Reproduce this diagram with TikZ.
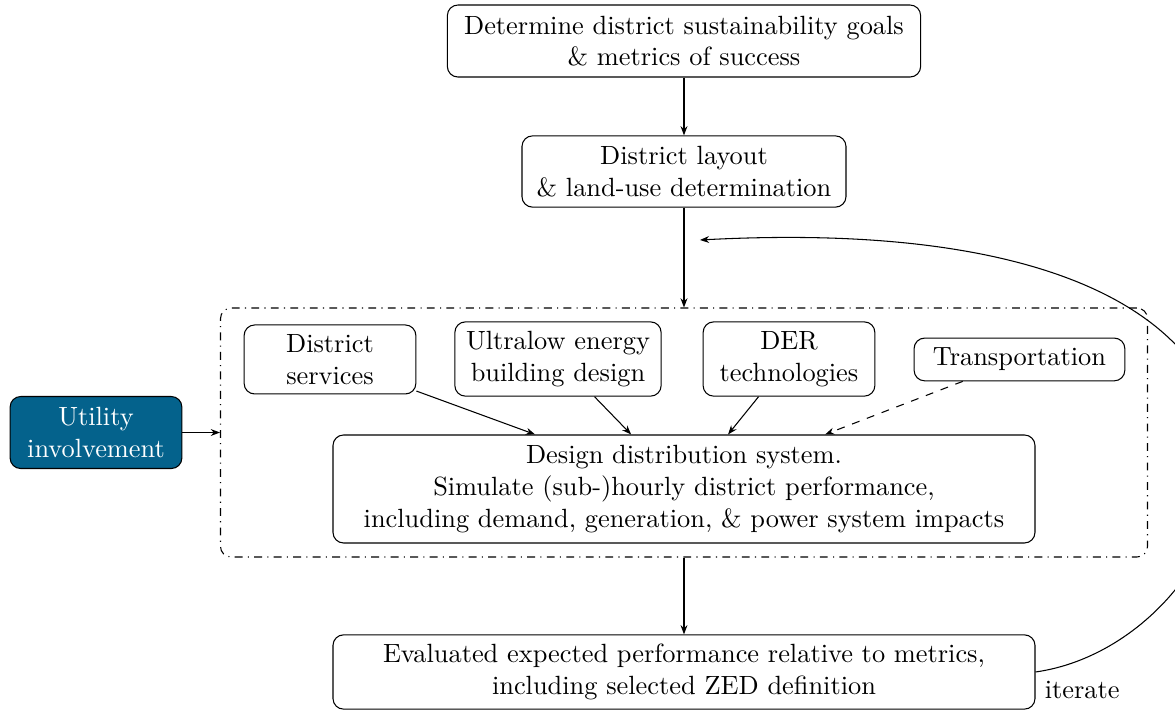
\documentclass[tikz,border=0pt]{standalone}
\usepackage{tikz}
\usetikzlibrary{arrows.meta}

\definecolor{utilblue}{RGB}{4,98,140}

\begin{document}
\begin{tikzpicture}[
  box/.style={draw, rounded corners, align=center, inner sep=2pt},
  link/.style={-{Stealth[length=3.5pt]}}
]
  \useasboundingbox (0,0) rectangle (15.667,-9.48);

  % Design stage (dash-dotted frame)
  \node[draw, dash dot, rounded corners, minimum width=12.36cm, minimum height=3.32cm] (group) at (9.12,-5.767) {};

  % Planning steps
  \node[box, minimum width=6.31cm, minimum height=0.96cm] (goals) at (9.12,-0.547)
    {Determine district sustainability goals\\ \& metrics of success};
  \node[box, minimum width=4.32cm, minimum height=0.95cm] (layout) at (9.12,-2.287)
    {District layout\\ \& land-use determination};

  % Inputs inside the frame
  \node[box, minimum width=2.29cm, minimum height=0.92cm] (services) at (4.4,-4.793)
    {District\\ services};
  \node[box, minimum width=2.75cm, minimum height=0.99cm] (building) at (7.44,-4.787)
    {Ultralow energy\\ building design};
  \node[box, minimum width=2.29cm, minimum height=0.99cm] (der) at (10.52,-4.787)
    {DER\\ technologies};
  \node[box, minimum width=2.81cm, minimum height=0.57cm] (transport) at (13.593,-4.793)
    {Transportation};
  \node[box, minimum width=9.36cm, minimum height=1.44cm] (design) at (9.12,-6.52)
    {Design distribution system.\\ Simulate (sub-)hourly district performance,\\ including demand, generation, \& power system impacts};

  % Utility
  \node[box, fill=utilblue, text=white, minimum width=2.29cm, minimum height=0.96cm] (utility) at (1.28,-5.767)
    {Utility\\ involvement};

  % Evaluation
  \node[box, minimum width=9.36cm, minimum height=0.99cm] (eval) at (9.12,-8.96)
    {Evaluated expected performance relative to metrics,\\ including selected ZED definition};

  \coordinate (back) at (9.333,-3.2);

  % Arrows
  \draw[link] (goals) -- (layout);
  \draw[link] (layout) -- (group);
  \draw[link] (services) -- (design);
  \draw[link] (building) -- (design);
  \draw[link] (der) -- (design);
  \draw[link, dashed] (transport) -- (design);
  \draw[link] (utility) -- (group);
  \draw[link] (group) -- (eval);
  \draw[link] (eval.east) node[below right] (iter) {iterate}
    .. controls +(8:3.0) and +(3:9.6) .. (back);
\end{tikzpicture}
\end{document}
